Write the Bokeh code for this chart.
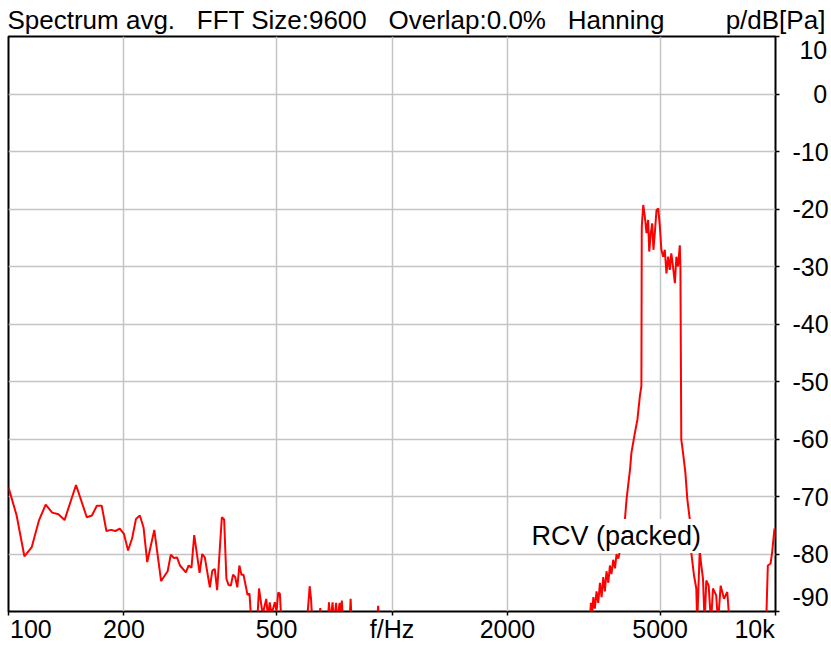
from bokeh.plotting import figure
from bokeh.models import Range1d, FixedTicker, Label, LogAxis
from bokeh.embed import file_html
from bokeh.resources import INLINE

# ---- data ----
freq = [100, 105, 110, 115, 120, 125, 130, 135, 140, 150, 160, 165, 170, 175, 180, 185, 190, 195,
        200, 205, 210, 215, 220, 225, 230, 240, 250, 260, 265, 270, 275, 280, 290, 295, 300, 305,
        315, 320, 325, 335, 340, 345, 350, 360, 365, 370, 375, 380, 385, 390, 395, 400, 405, 410,
        420, 425, 430, 445, 450, 460, 470, 475, 480, 485, 495, 500, 505, 510, 515,
        600, 610, 615, 620, 645, 650, 655, 680, 685, 690, 700, 705, 715, 720, 730, 735, 740, 745,
        775, 780, 785, 915, 920, 925,
        3280, 3300, 3320, 3350, 3380, 3415, 3450, 3485, 3520, 3555, 3590, 3625, 3665, 3700, 3735,
        3775, 3815, 3850, 3890, 3930, 3970, 4050, 4090, 4175, 4210, 4300, 4365, 4430, 4470,
        4480, 4520, 4565, 4610, 4655, 4685, 4730, 4770, 4805, 4845, 4895, 4945, 4995, 5040, 5095,
        5145, 5195, 5250, 5300, 5350, 5410, 5465, 5515, 5570, 5630, 5650,
        5680, 5740, 5820, 5890, 5975, 6030, 6130, 6215, 6250, 6345, 6405, 6470, 6535, 6600, 6695,
        6790, 6870, 7005, 7080, 7195, 7340, 7485, 7590,
        9455, 9550, 9705, 9800, 9940, 10000]
level = [-68.4, -73.3, -80.4, -78.8, -74.2, -71.4, -72.8, -73.1, -74.1, -68.0, -73.6, -73.3, -71.6, -71.6, -76.0, -75.8, -76.0, -75.6,
         -76.5, -79.4, -77.3, -73.9, -73.3, -75.4, -81.4, -75.8, -84.7, -83.0, -80.1, -80.7, -80.6, -82.0, -83.2, -82.0, -82.4, -76.7,
         -83.3, -80.0, -80.6, -85.8, -82.9, -82.6, -86.3, -73.6, -74.0, -84.3, -85.4, -85.5, -83.6, -84.0, -85.8, -82.0, -83.6, -83.6,
         -87.1, -86.9, -92.0, -92.0, -86.0, -90.5, -87.8, -91.0, -88.4, -90.5, -88.4, -90.0, -86.7, -86.9, -92.0,
         -92.0, -85.6, -87.8, -92.0, -92.0, -89.4, -92.0, -92.0, -88.4, -92.0, -88.4, -92.0, -88.5, -92.0, -88.5, -92.0, -88.1, -92.0,
         -92.0, -87.8, -92.0, -92.0, -89.0, -92.0,
         -92.0, -88.5, -91.0, -87.5, -89.5, -86.5, -88.5, -85.0, -87.5, -84.0, -86.5, -83.0, -85.0, -82.0, -83.5,
         -81.0, -82.5, -80.0, -80.8, -79.5, -79.0, -73.9, -70.4, -65.3, -62.4, -58.9, -56.6, -52.5, -50.8,
         -23.1, -19.3, -21.4, -24.2, -21.9, -27.4, -24.2, -22.5, -27.1, -24.2, -20.2, -19.9, -23.1, -27.1, -28.3,
         -27.1, -31.2, -28.3, -30.6, -27.7, -30.3, -32.9, -28.3, -30.0, -26.3, -30.0,
         -60.1, -62.4, -65.8, -70.5, -73.9, -79.7, -83.7, -86.0, -92.0, -79.4, -82.0, -84.3, -92.0, -84.6, -85.5,
         -92.0, -86.0, -87.2, -92.0, -85.5, -87.8, -86.6, -92.0,
         -92.0, -82.0, -81.7, -79.7, -75.6, -77.0]

x_ticks = [100, 200, 500, 1000, 2000, 5000, 10000]
x_tick_labels = ["100", "200", "500", "f/Hz", "2000", "5000", "10k"]
y_ticks = [10, 0, -10, -20, -30, -40, -50, -60, -70, -80, -90]
y_tick_labels = ["10", "0", "-10", "-20", "-30", "-40", "-50", "-60", "-70", "-80", "-90"]
title_parts = ["Spectrum avg.", "FFT Size:9600", "Overlap:0.0%", "Hanning"]
unit_text = "p/dB[Pa]"
trace_name = "RCV (packed)"

# ---- layout constants ----
W, H = 831, 645
FL, FR, FT, FB = 8, 778, 36, 612          # frame edges in canvas pixels
FONT = "Liberation Sans"
X0, X1, Y0, Y1 = 100, 10000, -90, 10
PX_DEC = (FR - FL) / 2.0                  # pixels per decade
PX_DB = (FB - FT) / (Y1 - Y0)             # pixels per dB


def f_at(px_from_left):
    return X0 * 10 ** (px_from_left / PX_DEC)


# wide gaps between header parts (non-collapsing spaces)
title_text = " \u00a0 ".join(title_parts)

# label anchors: the edge labels sit inside the frame, as in the reference
x_label_pos = list(x_ticks)
x_label_pos[0] = f_at(22.5)
x_label_pos[-1] = f_at((FR - FL) - 21)
y_label_pos = list(y_ticks)
y_label_pos[0] = y_ticks[0] - 14 / PX_DB
y_label_pos[-1] = y_ticks[-1] + 15 / PX_DB
# right-aligned look for the y labels (figure / punctuation spaces)
pad = {"0": "\u2007\u2008", "10": "\u2008"}
y_label_text = [pad.get(t, "") + t for t in y_tick_labels]
title_pos = f_at(337 - FL)

p = figure(width=W, height=H, x_axis_type="log",
           x_range=Range1d(X0, X1), y_range=Range1d(Y0, Y1),
           y_axis_location="right", output_backend="svg", toolbar_location=None,
           min_border_left=FL, min_border_right=W - FR, min_border_top=FT, min_border_bottom=H - FB)
p.background_fill_color = "white"
p.border_fill_color = "white"
p.outline_line_color = "black"
p.outline_line_width = 2


def style_axis(ax, size):
    ax.axis_line_color = None
    ax.major_tick_out = 0
    ax.major_tick_in = 0
    ax.minor_tick_out = 4
    ax.minor_tick_in = 0
    ax.minor_tick_line_color = "black"
    ax.minor_tick_line_width = 1.5
    ax.major_label_text_font = FONT
    ax.major_label_text_font_size = size
    ax.major_label_text_color = "black"


xax = p.xaxis[0]
xax.ticker = FixedTicker(ticks=x_label_pos, minor_ticks=x_ticks)
xax.major_label_overrides = {pos: lab for pos, lab in zip(x_label_pos, x_tick_labels)}
style_axis(xax, "25px")
xax.major_label_standoff = -1

yax = p.yaxis[0]
yax.ticker = FixedTicker(ticks=y_label_pos, minor_ticks=y_ticks)
yax.major_label_overrides = {pos: lab for pos, lab in zip(y_label_pos, y_label_text)}
style_axis(yax, "25px")
yax.major_label_standoff = 13
yax.major_label_orientation = "horizontal"

top = LogAxis(ticker=FixedTicker(ticks=[title_pos, X1], minor_ticks=[]),
              major_label_overrides={title_pos: title_text, X1: unit_text})
style_axis(top, "26px")
top.minor_tick_out = 0
top.major_label_standoff = 2
p.add_layout(top, "above")

p.xgrid.ticker = FixedTicker(ticks=x_ticks)
p.ygrid.ticker = FixedTicker(ticks=y_ticks)
for g in (p.xgrid[0], p.ygrid[0]):
    g.grid_line_color = "#c4c4c4"
    g.grid_line_width = 1.5

p.line(freq, level, line_color="#ff0000", line_width=2)

p.add_layout(Label(x=f_at(531 - FL), y=-80, text=trace_name, y_offset=18,
                   text_align="left", text_baseline="middle",
                   text_font=FONT, text_font_size="27px", text_color="black",
                   background_fill_color="white", background_fill_alpha=1.0, padding=2))

open("out.html", "w").write(file_html(p, INLINE))
